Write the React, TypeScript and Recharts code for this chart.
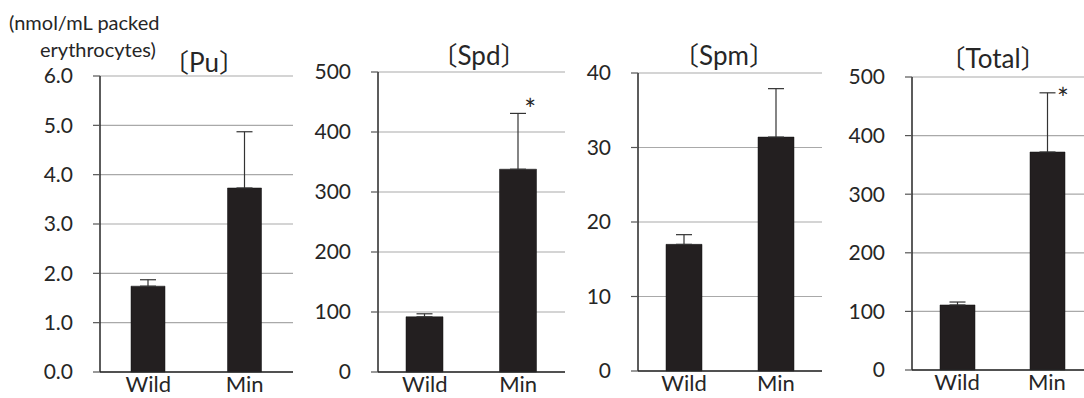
import React from 'react';
import { BarChart, Bar, XAxis, YAxis, CartesianGrid, ErrorBar, ReferenceDot } from 'recharts';

const categories = ['Wild', 'Min'];

const puValues = [1.74, 3.73];
const puErrors = [0.13, 1.14];
const puSig = [false, false];
const puTicks = [0, 1, 2, 3, 4, 5, 6];

const spdValues = [92, 338];
const spdErrors = [5, 93];
const spdSig = [false, true];
const spdTicks = [0, 100, 200, 300, 400, 500];

const spmValues = [17.0, 31.4];
const spmErrors = [1.3, 6.5];
const spmSig = [false, false];
const spmTicks = [0, 10, 20, 30, 40];

const totalValues = [111, 372];
const totalErrors = [5, 101];
const totalSig = [false, true];
const totalTicks = [0, 100, 200, 300, 400, 500];

const titles = ['〔Pu〕', '〔Spd〕', '〔Spm〕', '〔Total〕'];
const yLabelLines = ['(nmol/mL packed', 'erythrocytes)'];

const FONT = "Lato, 'Noto Sans CJK JP', sans-serif";
const BAR = '#231f20';
const AXIS = '#262626';
const GRID = '#a9a9a9';

type PanelProps = {
  values: number[];
  errors: number[];
  sig: boolean[];
  ticks: number[];
  decimals: number;
  left: number;
  width: number;
  yWidth: number;
  rightMargin: number;
  top: number;
  bottom: number;
  barSize: number;
  starDx: number;
  starDy: number;
};

function Panel(p: PanelProps) {
  const data = categories.map((c, i) => ({ name: c, value: p.values[i], err: [0, p.errors[i]] }));
  const max = p.ticks[p.ticks.length - 1];
  const H = 398;
  return (
    <div style={{ position: 'absolute', left: p.left, top: 0, width: p.width, height: H }}>
      <BarChart
        width={p.width}
        height={H}
        data={data}
        margin={{ top: p.top, right: p.rightMargin, bottom: 0, left: 0 }}
        barCategoryGap={0}
      >
        <CartesianGrid horizontal vertical={false} stroke={GRID} strokeWidth={1.2} />
        <XAxis
          dataKey="name"
          height={H - p.bottom}
          tickLine={false}
          axisLine={{ stroke: AXIS, strokeWidth: 1.5 }}
          tickSize={4}
          tickMargin={0}
          interval={0}
          tick={{ fontSize: 22, fill: AXIS, fontFamily: FONT }}
        />
        <XAxis
          xAxisId="top"
          dataKey="name"
          orientation="top"
          height={0}
          tick={false}
          tickLine={false}
          axisLine={{ stroke: '#404040', strokeWidth: 1.3 }}
        />
        <YAxis
          type="number"
          domain={[0, max]}
          ticks={p.ticks}
          interval={0}
          width={p.yWidth}
          tickSize={7}
          tickMargin={20}
          tickLine={{ stroke: '#555', strokeWidth: 1.2 }}
          axisLine={{ stroke: AXIS, strokeWidth: 1.5 }}
          tickFormatter={(v: number) => v.toFixed(p.decimals)}
          tick={{ fontSize: 21, fill: AXIS, fontFamily: FONT }}
        />
        <YAxis
          yAxisId="r"
          orientation="right"
          width={0}
          domain={[0, max]}
          tick={false}
          tickLine={false}
          axisLine={{ stroke: '#404040', strokeWidth: 1.3 }}
        />
        <Bar dataKey="value" fill={BAR} stroke="#111" strokeWidth={0.5} barSize={p.barSize} isAnimationActive={false}>
          <ErrorBar dataKey="err" width={8} stroke="#333" strokeWidth={1.2} direction="y" isAnimationActive={false} />
        </Bar>
        {data.map((d, i) =>
          p.sig[i] ? (
            <ReferenceDot
              key={d.name}
              x={d.name}
              y={p.values[i] + p.errors[i]}
              r={0}
              shape={(s: any) => (
                <text
                  x={s.cx + p.starDx}
                  y={s.cy + p.starDy}
                  textAnchor="middle"
                  fontSize={28}
                  fontFamily={FONT}
                  fill={AXIS}
                >
                  *
                </text>
              )}
            />
          ) : null
        )}
      </BarChart>
    </div>
  );
}

const titlePos = [
  { x: 204, y: 62 },
  { x: 479, y: 55 },
  { x: 724, y: 55 },
  { x: 993, y: 58 },
];

export default function App() {
  return (
    <div
      style={{
        position: 'absolute',
        left: 0,
        top: 0,
        width: 1084,
        height: 398,
        overflow: 'hidden',
        background: '#fff',
        fontFamily: FONT,
      }}
    >
      <Panel values={puValues} errors={puErrors} sig={puSig} ticks={puTicks} decimals={1}
        left={0} width={300} yWidth={100} rightMargin={7} top={76} bottom={372} barSize={34} starDx={14} starDy={7} />
      <Panel values={spdValues} errors={spdErrors} sig={spdSig} ticks={spdTicks} decimals={0}
        left={290} width={280} yWidth={88} rightMargin={5} top={72} bottom={372} barSize={37} starDx={12} starDy={7} />
      <Panel values={spmValues} errors={spmErrors} sig={spmSig} ticks={spmTicks} decimals={0}
        left={570} width={260} yWidth={68} rightMargin={8} top={73} bottom={371} barSize={36} starDx={14} starDy={7} />
      <Panel values={totalValues} errors={totalErrors} sig={totalSig} ticks={totalTicks} decimals={0}
        left={830} width={264} yWidth={82} rightMargin={2} top={77} bottom={370} barSize={35} starDx={16} starDy={16} />
      {titles.map((t, i) => (
        <div
          key={t}
          style={{
            position: 'absolute',
            left: titlePos[i].x,
            top: titlePos[i].y,
            transform: 'translate(-50%, -50%)',
            fontSize: 26,
            lineHeight: 1,
            whiteSpace: 'nowrap',
            color: AXIS,
          }}
        >
          {t}
        </div>
      ))}
      <div style={{ position: 'absolute', left: 9, top: 12, fontSize: 20, lineHeight: 1, whiteSpace: 'nowrap', color: AXIS }}>
        {yLabelLines[0]}
      </div>
      <div style={{ position: 'absolute', left: 40, top: 39, fontSize: 20, lineHeight: 1, whiteSpace: 'nowrap', color: AXIS }}>
        {yLabelLines[1]}
      </div>
    </div>
  );
}
